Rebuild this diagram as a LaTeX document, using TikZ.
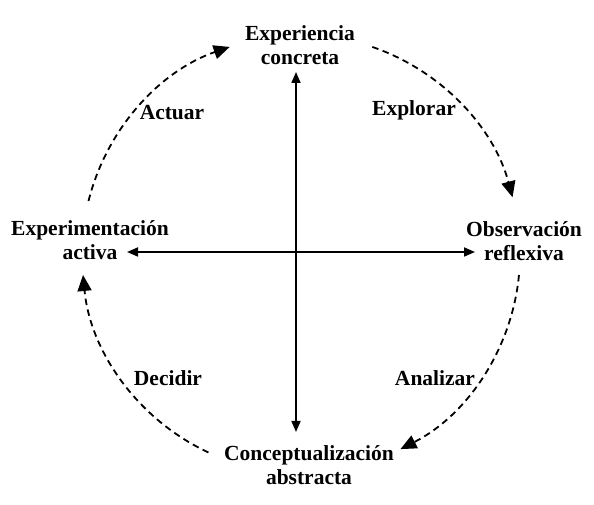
\documentclass[tikz,border=0pt]{standalone}
\usepackage{fontspec}
\setmainfont{Liberation Serif}
\usetikzlibrary{arrows.meta}

\tikzset{
  phase/.style={align=center, font=\bfseries\fontsize{21.5}{24}\selectfont},
  verb/.style={font=\bfseries\fontsize{21.5}{24}\selectfont},
  axis/.style={line width=1.7pt, {Triangle[length=11pt,width=9pt]}-{Triangle[length=11pt,width=9pt]}},
  cyclearrow/.style={line width=1.8pt, dash pattern=on 6.5pt off 4.5pt, -{Triangle[length=16pt,width=14pt]}}
}

\begin{document}
\begin{tikzpicture}[x=1pt,y=1pt]
  \useasboundingbox (0,0) rectangle (594,505);
  \coordinate (c) at (301,251);
  \coordinate (top) at (296,433);
  \coordinate (bot) at (296,73);
  \coordinate (left) at (127,253);
  \coordinate (right) at (475,253);
  \node[phase] (exp) at (300,460) {Experiencia\\concreta};
  \node[phase] (obs) at (524,264) {Observación\\reflexiva};
  \node[phase] (conc) at (309,40) {Conceptualización\\abstracta};
  \node[phase] (act) at (90,265) {Experimentación\\activa};
  \foreach \x/\y/\t in {172/392/Actuar, 414/395/Explorar, 435/127/Analizar, 168/127/Decidir}
    \node[verb] (\t) at (\x,\y) {\t};
  \draw[axis] (bot) -- (top);
  \draw[axis] (left) -- (right);
  \foreach \a/\b in {166/109, 71/15, -5.5/-63, -115/-174.5}
    \draw[cyclearrow] (c) ++(\a:219) arc[start angle=\a, end angle=\b, radius=219];
\end{tikzpicture}
\end{document}
